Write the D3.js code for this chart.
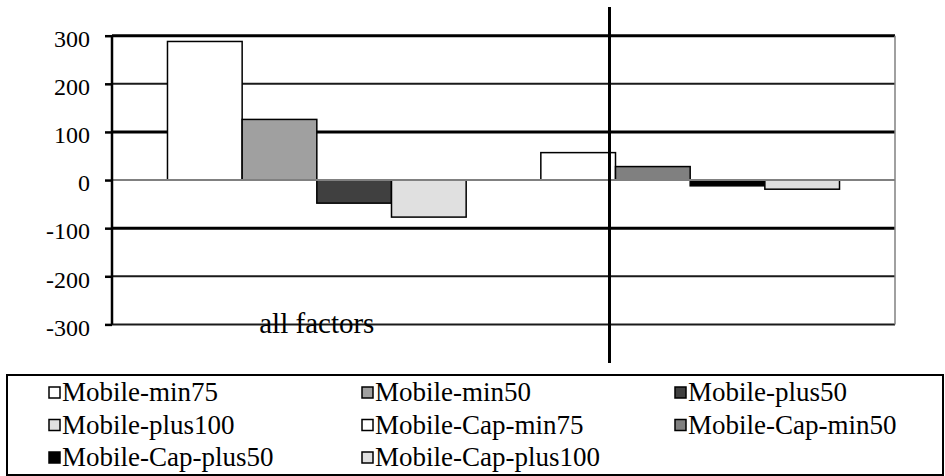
<!DOCTYPE html>
<html>
<head>
<meta charset="utf-8">
<title>all factors</title>
<style>
    body { margin: 0; background: white; }
    svg { display: block; }
    svg text { font-family: Liberation Serif !important; }
</style>
<script src="https://cdn.jsdelivr.net/npm/d3@7"></script>
</head>
<body>
<div id="chart"></div>
<script>
    // data
    var seriesNames = ['Mobile-min75', 'Mobile-min50', 'Mobile-plus50', 'Mobile-plus100',
                       'Mobile-Cap-min75', 'Mobile-Cap-min50', 'Mobile-Cap-plus50', 'Mobile-Cap-plus100'];
    var seriesValues = [288, 126, -48, -77, 57, 28, -12, -19];
    var seriesColors = ['#ffffff', '#a0a0a0', '#404040', '#e0e0e0',
                        '#ffffff', '#808080', '#000000', '#e0e0e0'];
    var categoryLabel = 'all factors';
    var yTicks = [300, 200, 100, 0, -100, -200, -300];

    var FONT = 'Liberation Serif';
    var width = 945, height = 476;
    var plot = { left: 112, right: 895, top: 35.7, bottom: 324.4 };

    function serif(sel, size) {
        sel.attr('font-family', FONT)
           .attr('font-size', size)
           .style('font-family', FONT)
           .style('font-size', size + 'px');
    }

    var svg = d3.select('#chart')
            .append('svg')
            .attr('xmlns', 'http://www.w3.org/2000/svg')
            .attr('width', width)
            .attr('height', height)
            .attr('font-family', FONT);

    // the bars sit in 9 slots, the 5th one left empty
    var slots = seriesNames.slice(0, 4).concat(['gap']).concat(seriesNames.slice(4));

    var x = d3.scaleBand()
            .domain(slots)
            .range([plot.left, plot.right])
            .paddingInner(0)
            .paddingOuter(0.743);

    var y = d3.scaleLinear()
            .domain([-300, 300])
            .range([plot.bottom, plot.top]);

    // gridlines
    svg.append('g').selectAll('line')
            .data(yTicks.filter(function(d) { return d !== 0; }))
        .enter().append('line')
            .attr('x1', plot.left)
            .attr('x2', plot.right)
            .attr('y1', function(d) { return y(d); })
            .attr('y2', function(d) { return y(d); })
            .attr('stroke', function(d) { return Math.abs(d) === 200 || d === -300 ? '#1a1a1a' : '#000'; })
            .attr('stroke-width', function(d) { return Math.abs(d) === 200 || d === -300 ? 2 : 3; });

    // right border
    svg.append('line')
            .attr('x1', plot.right).attr('x2', plot.right)
            .attr('y1', y(300)).attr('y2', y(-300))
            .attr('stroke', '#808080')
            .attr('stroke-width', 1.5);

    // bars
    var bars = seriesNames.map(function(name, i) {
        return { name: name, value: seriesValues[i], color: seriesColors[i] };
    });

    svg.append('g').selectAll('rect')
            .data(bars)
        .enter().append('rect')
            .attr('x', function(d) { return x(d.name); })
            .attr('width', x.bandwidth())
            .attr('y', function(d) { return y(Math.max(0, d.value)); })
            .attr('height', function(d) { return Math.abs(y(d.value) - y(0)); })
            .attr('fill', function(d) { return d.color; })
            .attr('stroke', '#000')
            .attr('stroke-width', 1.5);

    // zero line
    svg.append('line')
            .attr('x1', plot.left).attr('x2', plot.right)
            .attr('y1', y(0)).attr('y2', y(0))
            .attr('stroke', '#808080')
            .attr('stroke-width', 2);

    // y axis
    var yAxis = d3.axisLeft(y)
            .tickValues(yTicks)
            .tickFormat(function(d) { return String(d); })
            .tickSize(7)
            .tickPadding(15);

    var gy = svg.append('g')
            .attr('transform', 'translate(' + plot.left + ',0)')
            .call(yAxis)
            .attr('font-family', FONT)
            .attr('font-size', 24);
    gy.select('.domain').remove();
    gy.append('line')
            .attr('y1', y(300)).attr('y2', y(-300))
            .attr('stroke', '#000')
            .attr('stroke-width', 2.5);
    gy.selectAll('.tick line')
            .attr('stroke', '#000')
            .attr('stroke-width', 2.5);
    gy.selectAll('.tick text')
            .attr('dy', '0.45em')
            .attr('fill', '#000')
            .call(serif, 24);

    // category label under the first group
    var groupMid = (x(seriesNames[0]) + x(seriesNames[3]) + x.bandwidth()) / 2;
    svg.append('text')
            .attr('x', groupMid)
            .attr('y', 333)
            .attr('text-anchor', 'middle')
            .call(serif, 29)
            .text(categoryLabel);

    // vertical separator
    svg.append('line')
            .attr('x1', 609.5).attr('x2', 609.5)
            .attr('y1', 7).attr('y2', 363)
            .attr('stroke', '#000')
            .attr('stroke-width', 3);

    // legend
    var legend = svg.append('g');
    legend.append('rect')
            .attr('x', 7)
            .attr('y', 375)
            .attr('width', 936)
            .attr('height', 100)
            .attr('fill', 'none')
            .attr('stroke', '#000')
            .attr('stroke-width', 2);

    var item = legend.selectAll('g.item')
            .data(bars)
        .enter().append('g')
            .attr('class', 'item')
            .attr('transform', function(d, i) {
                return 'translate(' + (49 + (i % 3) * 313) + ',' + (401 + Math.floor(i / 3) * 32.5) + ')';
            });

    item.append('rect')
            .attr('x', 0)
            .attr('y', -14)
            .attr('width', 11)
            .attr('height', 11)
            .attr('fill', function(d) { return d.color; })
            .attr('stroke', '#000')
            .attr('stroke-width', 1.5);

    item.append('text')
            .attr('x', 13)
            .attr('y', 0)
            .call(serif, 27)
            .text(function(d) { return d.name; });
</script>
</body>
</html>
